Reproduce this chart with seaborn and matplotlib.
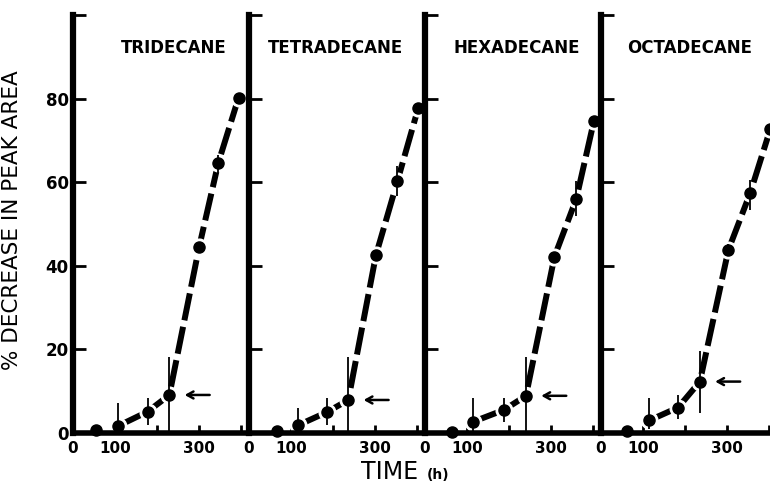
import matplotlib
matplotlib.use("Agg")
import matplotlib.pyplot as plt
import seaborn as sns
import pandas as pd

# values: time (h), % decrease, error bar ends
names = ["TRIDECANE", "TETRADECANE", "HEXADECANE", "OCTADECANE"]

time_tri = [56, 108, 178, 230, 301, 347, 395]
pct_tri = [0.7, 1.7, 5.1, 9.1, 44.5, 64.7, 80.2]
lo_tri = [0.7, 0.0, 1.9, 0.0, 44.5, 62.3, 80.2]
hi_tri = [0.7, 7.1, 8.3, 18.3, 44.5, 66.6, 80.2]

time_tet = [68, 118, 186, 237, 303, 354, 404]
pct_tet = [0.5, 1.9, 5.0, 7.9, 42.6, 60.2, 77.8]
lo_tet = [0.5, 0.0, 1.9, 0.0, 42.6, 56.6, 77.8]
hi_tet = [0.5, 6.0, 8.3, 18.3, 42.6, 63.8, 77.8]

time_hex = [65, 115, 188, 241, 309, 361, 403]
pct_hex = [0.3, 2.7, 5.5, 8.9, 42.2, 56.0, 74.6]
lo_hex = [0.3, 0.0, 2.7, 0.0, 42.2, 51.8, 74.6]
hi_hex = [0.3, 8.3, 8.3, 18.3, 42.2, 60.2, 74.6]

time_oct = [63, 115, 184, 236, 304, 356, 404]
pct_oct = [0.5, 3.0, 6.1, 12.3, 43.8, 57.4, 72.7]
lo_oct = [0.5, 1.0, 3.4, 4.7, 42.3, 53.4, 72.7]
hi_oct = [0.5, 8.3, 9.0, 19.5, 45.3, 60.6, 72.7]

x_ticks = [0, 100, 200, 300, 400]
x_ticklabels = ["0", "100", "", "300", ""]
y_ticks = [0, 20, 40, 60, 80, 100]
y_ticklabels = ["0", "20", "40", "60", "80", ""]

frames = []
for name, t, p, lo, hi in zip(names,
                              [time_tri, time_tet, time_hex, time_oct],
                              [pct_tri, pct_tet, pct_hex, pct_oct],
                              [lo_tri, lo_tet, lo_hex, lo_oct],
                              [hi_tri, hi_tet, hi_hex, hi_oct]):
    frames.append(pd.DataFrame({"compound": name, "time": t, "pct": p,
                                "lo": lo, "hi": hi}))
df = pd.concat(frames, ignore_index=True)

sns.set_style("ticks", rc={"axes.edgecolor": "black", "text.color": "black",
                           "xtick.color": "black", "ytick.color": "black",
                           "axes.labelcolor": "black"})
plt.rcParams["font.family"] = ["DejaVu Sans"]

fig = plt.figure(figsize=(7.7, 4.84), dpi=100)
W, H = 770, 484
panel_w = 176
title_x = [0.575, 0.49, 0.52, 0.505]

for i, name in enumerate(names):
    ax = fig.add_axes([(73 + i * panel_w) / W, 51 / H, panel_w / W, 418 / H])
    sub = df[df["compound"] == name].reset_index(drop=True)

    # dashed connecting line (first point stands alone)
    sns.lineplot(data=sub.iloc[1:], x="time", y="pct", color="black",
                 linewidth=4.3, linestyle=(0, (4.6, 1.1)),
                 dash_capstyle="butt", ax=ax, zorder=2)
    # white halo so the line stops short of the dots
    ax.plot(sub["time"], sub["pct"], "o", ms=12, color="white",
            zorder=2.2, clip_on=False)
    ax.plot(sub["time"], sub["pct"], "o", ms=8, color="black",
            zorder=4, clip_on=False)
    ax.errorbar(sub["time"], sub["pct"],
                yerr=[sub["pct"] - sub["lo"], sub["hi"] - sub["pct"]],
                fmt="none", ecolor="black", elinewidth=1.3, capsize=0,
                zorder=4.5, clip_on=False)

    ax.annotate("", xy=(sub["time"][3], sub["pct"][3]), xytext=(29, 0),
                textcoords="offset points",
                arrowprops=dict(arrowstyle="->,head_length=0.45,head_width=0.25",
                                color="black", lw=1.8, shrinkA=0, shrinkB=11))

    ax.text(title_x[i], 0.92, name, transform=ax.transAxes, ha="center",
            va="center", fontsize=12, fontweight="bold")

    ax.set_xlim(0, 420)
    ax.set_ylim(0, 100)
    ax.set_xticks(x_ticks, x_ticklabels, fontsize=11, fontweight="bold")
    if i == 0:
        ax.set_yticks(y_ticks, y_ticklabels, fontsize=12, fontweight="bold")
    else:
        ax.set_yticks(y_ticks, [""] * len(y_ticks))
    ax.tick_params(axis="y", direction="in", length=9, width=2, pad=3)
    ax.tick_params(axis="x", direction="in", length=6, width=2, pad=6)

    for s in ["top", "right"]:
        ax.spines[s].set_visible(False)
    ax.spines["left"].set_linewidth(4.5)
    ax.spines["bottom"].set_linewidth(4)

    ax.set_xlabel("")
    ax.set_ylabel("")
    if i == 0:
        ax.set_ylabel("% DECREASE IN PEAK AREA", fontsize=15.5)
        ax.yaxis.set_label_coords(-0.29, 0.51)

fig.text(390 / W, 5 / H, "TIME", ha="center", va="baseline", fontsize=17)
fig.text(427 / W, 5 / H, "(h)", ha="left", va="baseline", fontsize=10,
         fontweight="bold")

fig.savefig("out.png", dpi=100)
